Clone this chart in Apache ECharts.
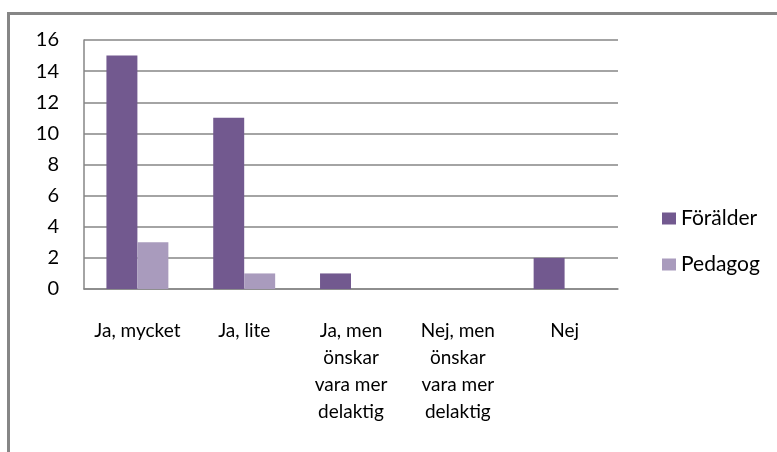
<!DOCTYPE html>
<html>
<head>
<meta charset="utf-8">
<script src="https://cdn.jsdelivr.net/npm/echarts@6/dist/echarts.min.js"></script>
<style>
html,body{margin:0;padding:0;background:#fff;}
#chart{width:777px;height:452px;}
</style>
</head>
<body>
<div id="chart"></div>
<script>
const categories = ["Ja, mycket", "Ja, lite", "Ja, men\nönskar\nvara mer\ndelaktig", "Nej, men\nönskar\nvara mer\ndelaktig", "Nej"];
const seriesNames = ["Förälder", "Pedagog"];
const foralder = [15, 11, 1, 0, 2];
const pedagog = [3, 1, 0, 0, 0];
const yTicks = { min: 0, max: 16, interval: 2 };

const FONT = "Lato, 'Liberation Sans', sans-serif";
const chart = echarts.init(document.getElementById('chart'), null, { renderer: 'canvas' });
chart.setOption({
  animation: false,
  backgroundColor: '#ffffff',
  textStyle: { fontFamily: FONT },
  graphic: [{
    type: 'rect',
    shape: { x: 8.5, y: 13.5, width: 900, height: 600 },
    style: { fill: 'none', stroke: '#868686', lineWidth: 3 },
    silent: true
  }],
  grid: { left: 84, right: 159, top: 40, bottom: 163, containLabel: false },
  legend: {
    orient: 'vertical',
    left: 657,
    top: 203,
    itemWidth: 14,
    itemHeight: 12,
    itemGap: 25,
    icon: 'rect',
    textStyle: { fontSize: 21, color: '#000', fontFamily: FONT },
    data: seriesNames
  },
  xAxis: {
    type: 'category',
    data: categories,
    axisLine: { show: true, lineStyle: { color: '#868686', width: 1.5 } },
    axisTick: { show: false },
    axisLabel: { interval: 0, color: '#000', fontSize: 19, lineHeight: 27, margin: 28, fontFamily: FONT }
  },
  yAxis: {
    type: 'value',
    min: yTicks.min, max: yTicks.max, interval: yTicks.interval,
    axisLine: { show: true, lineStyle: { color: '#868686', width: 1.5 } },
    axisTick: { show: false },
    splitLine: { lineStyle: { color: '#868686', width: 1.5 } },
    axisLabel: { color: '#000', fontSize: 20, margin: 25, fontFamily: FONT }
  },
  series: [
    { name: seriesNames[0], type: 'bar', data: foralder, barGap: '0%', barCategoryGap: '42%', itemStyle: { color: '#72598f' } },
    { name: seriesNames[1], type: 'bar', data: pedagog, barGap: '0%', barCategoryGap: '42%', itemStyle: { color: '#a99bbd' } }
  ]
});
</script>
</body>
</html>
